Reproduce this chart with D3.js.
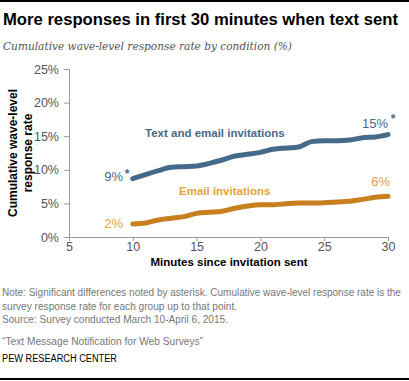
<!DOCTYPE html>
<html><head><meta charset="utf-8">
<script src="https://cdn.jsdelivr.net/npm/d3@7"></script>
<style>body{margin:0;background:#fff}svg{display:block}</style>
</head><body>
<script>
const minutes = [10,11,12,13,14,15,16,17,18,19,20,21,22,23,24,25,26,27,28,29,30];
const textEmail = [8.68,9.28,9.87,10.37,10.47,10.57,10.96,11.46,12.05,12.3,12.6,13.05,13.24,13.4,14.19,14.33,14.33,14.43,14.78,14.88,15.23];
const emailOnly = [1.93,2.08,2.53,2.78,3.03,3.52,3.67,3.82,4.27,4.61,4.81,4.81,4.96,5.06,5.06,5.11,5.21,5.31,5.6,5.9,6.05];
const xTicks = [5,10,15,20,25,30];
const yTicks = [0,5,10,15,20,25];

const W=409,H=381;
const svg=d3.select("body").append("svg").attr("width",W).attr("height",H);
const sans="'Liberation Sans', Arial, sans-serif";
svg.append("rect").attr("x",0).attr("y",0).attr("width",W).attr("height",2).attr("fill","#000");
svg.append("rect").attr("x",0).attr("y",378).attr("width",W).attr("height",2).attr("fill","#000");

function lab(t,xx,yy,c,anchor,bold,size,len){const e=svg.append("text").attr("x",xx).attr("y",yy).attr("text-anchor",anchor).attr("font-family",sans).attr("font-weight",bold?"bold":"normal").attr("font-size",size).attr("fill",c).text(t);if(len)e.attr("textLength",len).attr("lengthAdjust","spacingAndGlyphs");return e;}

lab("More responses in first 30 minutes when text sent",3,25,"#000","start",true,17,395);
svg.append("text").attr("x",3).attr("y",50).attr("font-family","'DejaVu Serif', Georgia, serif").attr("font-style","italic").attr("font-size",11.5).attr("fill","#555").attr("textLength",289).attr("lengthAdjust","spacingAndGlyphs").text("Cumulative wave-level response rate by condition (%)");

const x=d3.scaleLinear().domain([5,30]).range([69,388]);
const y=d3.scaleLinear().domain([0,25]).range([237,69]);
const g=svg.append("g");
const ax=g.append("g").attr("transform","translate(0,237)").call(d3.axisBottom(x).tickValues(xTicks).tickSize(4).tickSizeOuter(0));
const ay=g.append("g").attr("transform","translate(69,0)").call(d3.axisLeft(y).tickValues(yTicks).tickFormat(d=>d+"%").tickSize(5).tickSizeOuter(0));
[ax,ay].forEach(a=>{a.selectAll("path,line").attr("stroke","#999");a.selectAll("text").attr("font-family",sans).attr("font-size",12.5).attr("fill","#555");});
ax.selectAll("text").attr("y",5).attr("dy","0.71em");
ay.selectAll("text").attr("dx","-2");

lab("Minutes since invitation sent",229,266,"#000","middle",true,11.5);
const yt=svg.append("text").attr("transform","translate(0,153) rotate(-90)").attr("text-anchor","middle").attr("font-family",sans).attr("font-weight","bold").attr("font-size",12).attr("fill","#000");
yt.append("tspan").attr("x",0).attr("y",17).text("Cumulative wave-level");
yt.append("tspan").attr("x",0).attr("y",32).text("response rate");

const line=d3.line().x((d,i)=>x(minutes[i])).y(d=>y(d)).curve(d3.curveMonotoneX);
svg.append("path").datum(textEmail).attr("d",line).attr("fill","none").attr("stroke","#466b8a").attr("stroke-width",5).attr("stroke-linecap","round");
svg.append("path").datum(emailOnly).attr("d",line).attr("fill","none").attr("stroke","#c8801e").attr("stroke-width",5).attr("stroke-linecap","round");

const blue="#466b8a", orange="#e9a23b";
lab("9%",123,181,blue,"end",false,13);
lab("*",127,178,blue,"middle",true,12);
lab("15%",388,128,blue,"end",false,13);
lab("*",393,123,blue,"middle",true,12);
lab("6%",390,186,orange,"end",false,13);
lab("2%",123,228,orange,"end",false,13);
lab("Text and email invitations",145,137,blue,"start",true,11.5);
lab("Email invitations",179,195,orange,"start",true,11.5);

lab("Note: Significant differences noted by asterisk. Cumulative wave-level response rate is the",2,296,"#777","start",false,10);
lab("survey response rate for each group up to that point.",2,310,"#777","start",false,10.3,235);
lab("Source: Survey conducted March 10-April 6, 2015.",2,323,"#777","start",false,10.3,226);
lab("\u201cText Message Notification for Web Surveys\u201d",2,345,"#777","start",false,10.3,201);
lab("PEW RESEARCH CENTER",2,362,"#000","start",false,10,115);
</script>
</body></html>
